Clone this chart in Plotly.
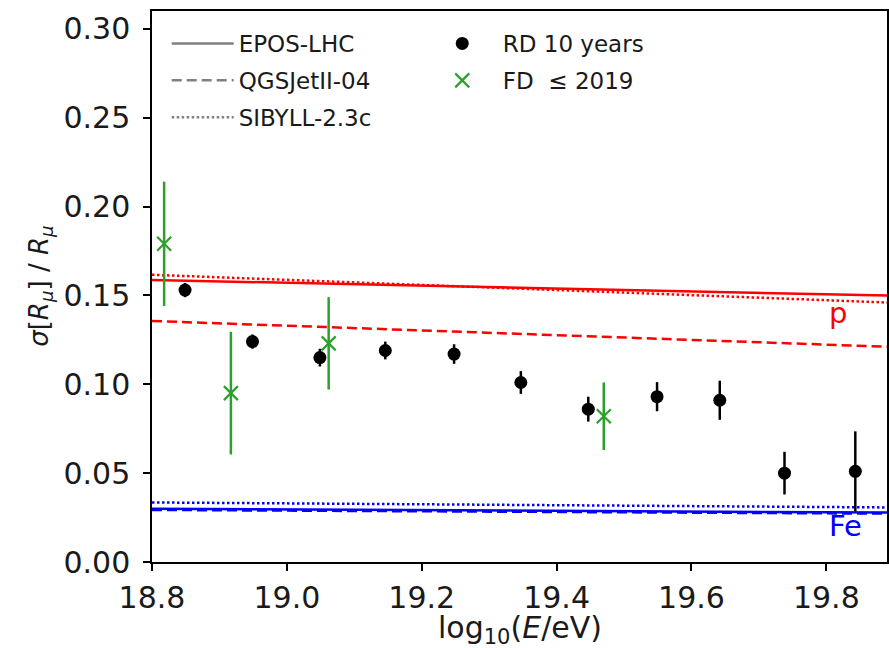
import plotly.graph_objects as go

# ---- data ----
rd_x = [18.849, 18.949, 19.049, 19.146, 19.248, 19.347, 19.447, 19.549, 19.642, 19.738, 19.843]
rd_y = [0.153, 0.124, 0.115, 0.119, 0.117, 0.101, 0.086, 0.093, 0.091, 0.050, 0.051]
rd_err = [0.004, 0.004, 0.005, 0.005, 0.0055, 0.0064, 0.007, 0.0082, 0.011, 0.012, 0.0225]

fd_x = [18.818, 18.917, 19.062, 19.470]
fd_y = [0.179, 0.095, 0.123, 0.082]
fd_err = [0.035, 0.0345, 0.026, 0.019]

model_x = [18.8, 19.89]
epos_p = [0.1587, 0.1499]
qgs_p = [0.1356, 0.1211]
sib_p = [0.1616, 0.1460]
epos_fe = [0.0300, 0.0278]
qgs_fe = [0.0293, 0.0272]
sib_fe = [0.0335, 0.0307]

x_ticks = [18.8, 19.0, 19.2, 19.4, 19.6, 19.8]
y_ticks = [0.00, 0.05, 0.10, 0.15, 0.20, 0.25, 0.30]

FONT = "DejaVu Sans"
RED = "#ff0000"
BLUE = "#0000ff"
GREEN = "#2ca02c"
GRAY = "#808080"
DASH = "10px,5px"
DOT = "2.5px,2.5px"

fig = go.Figure()

# model lines
for ys, dash, col in [(epos_p, "solid", RED), (qgs_p, DASH, RED), (sib_p, DOT, RED),
                      (epos_fe, "solid", BLUE), (qgs_fe, DASH, BLUE), (sib_fe, DOT, BLUE)]:
    fig.add_trace(go.Scatter(x=model_x, y=ys, mode="lines",
                             line=dict(color=col, width=2.5, dash=dash),
                             showlegend=False, hoverinfo="skip"))

# legend entries for models (gray)
for name, dash, grp in [("EPOS-LHC", "solid", "a"), ("QGSJetII-04", DASH, "b"), ("SIBYLL-2.3c", DOT, "c")]:
    fig.add_trace(go.Scatter(x=[None], y=[None], mode="lines", name=name,
                             line=dict(color=GRAY, width=2.5, dash=dash),
                             legend="legend", legendgroup=grp))

# FD data
fig.add_trace(go.Scatter(x=fd_x, y=fd_y, mode="markers", name="FD  ≤ 2019",
                         marker=dict(symbol="x-thin", size=14, line=dict(color=GREEN, width=2.2), color=GREEN),
                         error_y=dict(type="data", array=fd_err, color=GREEN, thickness=2.5, width=0),
                         legend="legend2", legendgroup="e", legendrank=2))

# RD data
fig.add_trace(go.Scatter(x=rd_x, y=rd_y, mode="markers", name="RD 10 years",
                         marker=dict(symbol="circle", size=13, color="black"),
                         error_y=dict(type="data", array=rd_err, color="black", thickness=2.5, width=0),
                         legend="legend2", legendgroup="d", legendrank=1))

fig.add_annotation(x=19.817, y=0.140, xref="x", yref="y", text="p", showarrow=False,
                   font=dict(family=FONT, size=29, color=RED))
fig.add_annotation(x=19.829, y=0.020, xref="x", yref="y", text="Fe", showarrow=False,
                   font=dict(family=FONT, size=29, color=BLUE))

# axis titles
fig.add_annotation(x=0.5, y=-0.122, xref="paper", yref="paper", text="log<sub>10</sub>(<i>E</i>/eV)",
                   showarrow=False, yanchor="middle", xanchor="center",
                   font=dict(family=FONT, size=30, color="#1a1a1a"))
fig.add_annotation(x=-0.152, y=0.5, xref="paper", yref="paper",
                   text="<i>σ</i>[<i>R</i><sub><i>μ</i></sub>] / <i>R</i><sub><i>μ</i></sub>",
                   showarrow=False, textangle=-90, yanchor="middle", xanchor="center",
                   font=dict(family=FONT, size=26, color="#1a1a1a"))

axis_common = dict(showline=True, linecolor="black", linewidth=1.5, mirror=True,
                   ticks="outside", ticklen=7, tickwidth=1.5, tickcolor="black",
                   showgrid=False, zeroline=False, automargin=False,
                   tickfont=dict(family=FONT, size=30, color="#1a1a1a"))

fig.update_layout(
    width=889, height=648,
    margin=dict(l=152, r=2, t=11, b=86),
    paper_bgcolor="white", plot_bgcolor="white",
    font=dict(family=FONT, color="#1a1a1a"),
    xaxis=dict(range=[18.8, 19.89], tickvals=x_ticks, ticktext=[f"{v:.1f}" for v in x_ticks],
               ticklabelstandoff=1, **axis_common),
    yaxis=dict(range=[0, 0.31], tickvals=y_ticks, ticktext=[f"{v:.2f}" for v in y_ticks],
               ticklabelstandoff=7, **axis_common),
    legend=dict(x=0.02, y=0.98, xanchor="left", yanchor="top", bgcolor="rgba(0,0,0,0)",
                font=dict(family=FONT, size=23), tracegroupgap=4, itemwidth=62),
    legend2=dict(x=0.367, y=0.98, xanchor="left", yanchor="top", bgcolor="rgba(0,0,0,0)",
                 font=dict(family=FONT, size=23), tracegroupgap=4, itemwidth=71),
)

fig.write_html("out.html", config={"displayModeBar": False},
               post_script="document.body.style.margin='0px';document.body.style.overflow='hidden';")
